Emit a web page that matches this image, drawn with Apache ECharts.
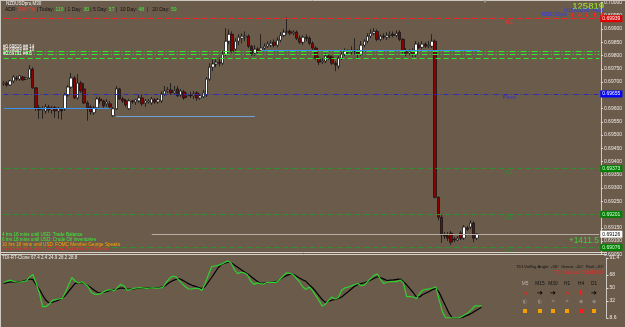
<!DOCTYPE html>
<html>
<head>
<meta charset="utf-8">
<script src="https://cdn.jsdelivr.net/npm/echarts@6/dist/echarts.min.js"></script>
<style>
  html, body { margin: 0; padding: 0; background: #6b5b4b; }
  #chart { width: 625px; height: 327px; }
</style>
</head>
<body>
<div id="chart"></div>
<script>
// NZDUSDpro M30 candles: [open, close, low, high]
var candles = [
  [0.69693,0.69696,0.69685,0.69704],[0.69696,0.69689,0.69681,0.69704],[0.69689,0.69704,0.69685,0.69708],[0.69704,0.69719,0.69696,0.69726],
  [0.69715,0.69711,0.69704,0.69723],[0.69711,0.69723,0.69704,0.69726],[0.69719,0.69708,0.69704,0.69723],[0.69711,0.69715,0.69708,0.69719],
  [0.69715,0.69749,0.69711,0.69764],[0.69749,0.69678,0.69674,0.69756],[0.69678,0.69603,0.69591,0.69681],[0.69603,0.69595,0.69561,0.69614],
  [0.69595,0.69599,0.69561,0.69610],[0.69591,0.69606,0.69580,0.69618],[0.69606,0.69595,0.69584,0.69614],[0.69595,0.69603,0.69580,0.69610],
  [0.69603,0.69591,0.69565,0.69610],[0.69591,0.69599,0.69561,0.69606],[0.69599,0.69591,0.69558,0.69603],[0.69599,0.69651,0.69591,0.69659],
  [0.69651,0.69681,0.69644,0.69689],[0.69681,0.69715,0.69674,0.69734],[0.69715,0.69640,0.69636,0.69723],[0.69640,0.69696,0.69633,0.69730],
  [0.69696,0.69666,0.69659,0.69704],[0.69674,0.69621,0.69618,0.69696],[0.69621,0.69599,0.69554,0.69629],[0.69606,0.69588,0.69576,0.69614],
  [0.69584,0.69603,0.69576,0.69610],[0.69603,0.69636,0.69595,0.69644],[0.69636,0.69629,0.69618,0.69644],[0.69629,0.69610,0.69603,0.69633],
  [0.69618,0.69625,0.69606,0.69636],[0.69618,0.69606,0.69599,0.69629],[0.69573,0.69599,0.69569,0.69606],[0.69599,0.69674,0.69595,0.69685],
  [0.69674,0.69636,0.69633,0.69678],[0.69636,0.69629,0.69621,0.69644],[0.69629,0.69614,0.69606,0.69636],[0.69599,0.69629,0.69595,0.69636],
  [0.69629,0.69625,0.69618,0.69633],[0.69625,0.69633,0.69614,0.69636],[0.69629,0.69640,0.69621,0.69651],[0.69640,0.69618,0.69610,0.69655],
  [0.69621,0.69629,0.69606,0.69636],[0.69625,0.69629,0.69618,0.69636],[0.69621,0.69636,0.69614,0.69644],[0.69633,0.69625,0.69618,0.69640],
  [0.69625,0.69633,0.69618,0.69640],[0.69629,0.69655,0.69621,0.69666],[0.69655,0.69666,0.69648,0.69685],[0.69666,0.69670,0.69659,0.69681],
  [0.69670,0.69659,0.69651,0.69696],[0.69659,0.69666,0.69655,0.69685],[0.69674,0.69648,0.69644,0.69685],[0.69651,0.69666,0.69644,0.69674],
  [0.69663,0.69640,0.69633,0.69670],[0.69648,0.69651,0.69640,0.69659],[0.69651,0.69648,0.69640,0.69663],[0.69648,0.69655,0.69636,0.69666],
  [0.69659,0.69640,0.69629,0.69666],[0.69640,0.69648,0.69633,0.69655],[0.69644,0.69659,0.69640,0.69670],[0.69651,0.69711,0.69644,0.69719],
  [0.69711,0.69756,0.69704,0.69771],[0.69756,0.69768,0.69741,0.69786],[0.69768,0.69775,0.69756,0.69790],[0.69775,0.69771,0.69760,0.69794],
  [0.69771,0.69805,0.69764,0.69816],[0.69805,0.69854,0.69798,0.69903],[0.69854,0.69880,0.69843,0.69899],[0.69880,0.69816,0.69809,0.69891],
  [0.69824,0.69854,0.69809,0.69865],[0.69854,0.69869,0.69839,0.69880],[0.69865,0.69873,0.69846,0.69884],[0.69869,0.69873,0.69854,0.69891],
  [0.69873,0.69835,0.69828,0.69880],[0.69835,0.69805,0.69798,0.69839],[0.69809,0.69824,0.69798,0.69839],[0.69824,0.69816,0.69809,0.69831],
  [0.69820,0.69828,0.69813,0.69880],[0.69828,0.69835,0.69820,0.69846],[0.69835,0.69843,0.69828,0.69854],[0.69839,0.69846,0.69831,0.69858],
  [0.69850,0.69839,0.69831,0.69861],[0.69839,0.69858,0.69831,0.69869],[0.69858,0.69876,0.69850,0.69888],[0.69876,0.69888,0.69869,0.69899],
  [0.69888,0.69891,0.69880,0.69944],[0.69891,0.69884,0.69876,0.69899],[0.69884,0.69888,0.69876,0.69895],[0.69888,0.69865,0.69858,0.69895],
  [0.69865,0.69850,0.69843,0.69876],[0.69850,0.69869,0.69839,0.69876],[0.69869,0.69865,0.69854,0.69880],[0.69865,0.69846,0.69839,0.69873],
  [0.69846,0.69828,0.69820,0.69854],[0.69828,0.69790,0.69783,0.69835],[0.69790,0.69775,0.69764,0.69798],[0.69775,0.69779,0.69768,0.69790],
  [0.69779,0.69798,0.69771,0.69809],[0.69798,0.69790,0.69783,0.69805],[0.69794,0.69771,0.69764,0.69801],[0.69771,0.69764,0.69741,0.69779],
  [0.69760,0.69790,0.69749,0.69798],[0.69790,0.69805,0.69783,0.69816],[0.69805,0.69816,0.69798,0.69828],[0.69816,0.69813,0.69805,0.69824],
  [0.69813,0.69820,0.69805,0.69835],[0.69820,0.69816,0.69805,0.69865],[0.69813,0.69805,0.69786,0.69824],[0.69805,0.69839,0.69798,0.69854],
  [0.69839,0.69854,0.69831,0.69861],[0.69854,0.69873,0.69846,0.69884],[0.69873,0.69884,0.69865,0.69899],[0.69884,0.69891,0.69876,0.69903],
  [0.69891,0.69861,0.69854,0.69899],[0.69861,0.69873,0.69854,0.69880],[0.69873,0.69869,0.69861,0.69884],[0.69869,0.69876,0.69858,0.69888],
  [0.69876,0.69880,0.69865,0.69891],[0.69880,0.69876,0.69869,0.69891],[0.69876,0.69884,0.69869,0.69895],[0.69888,0.69861,0.69854,0.69895],
  [0.69861,0.69816,0.69809,0.69865],[0.69816,0.69809,0.69798,0.69828],[0.69809,0.69816,0.69801,0.69824],[0.69816,0.69805,0.69794,0.69828],
  [0.69805,0.69843,0.69794,0.69854],[0.69839,0.69831,0.69824,0.69850],[0.69831,0.69843,0.69824,0.69854],[0.69843,0.69835,0.69828,0.69850],
  [0.69835,0.69839,0.69828,0.69854],[0.69835,0.69854,0.69828,0.69880],[0.69854,0.69265,0.69261,0.69861],[0.69265,0.69190,0.69179,0.69269],
  [0.69190,0.69123,0.69093,0.69198],[0.69123,0.69119,0.69108,0.69134],[0.69119,0.69111,0.69100,0.69134],[0.69130,0.69096,0.69085,0.69138],
  [0.69108,0.69104,0.69096,0.69115],[0.69104,0.69111,0.69100,0.69119],[0.69130,0.69111,0.69104,0.69138],[0.69111,0.69153,0.69104,0.69160],
  [0.69149,0.69145,0.69138,0.69156],[0.69153,0.69168,0.69145,0.69179],[0.69168,0.69111,0.69096,0.69175],[0.69111,0.69126,0.69104,0.69130]
];

// TDI sub window
var tdiGreen = [
  57.5,59.4,60.9,59.3,58.3,57.9,59.0,59.9,65.2,68.6,
  56.9,43.1,24.2,24.2,27.9,33.0,34.1,34.8,35.6,43.8,
  54.1,64.5,59.7,56.8,58.7,55.8,51.8,43.8,41.3,41.3,
  42.6,45.3,47.2,47.6,46.4,50.4,55.0,52.8,46.7,47.9,
  49.6,50.0,50.4,50.0,49.6,50.0,50.3,49.7,50.0,50.8,
  57.6,63.0,66.2,65.5,60.5,55.7,51.4,48.6,48.6,49.7,
  49.6,46.5,56.2,68.0,79.4,80.4,81.3,83.0,85.2,87.4,
  84.5,75.5,69.9,71.7,70.9,68.2,59.7,55.0,57.1,56.1,
  55.5,57.7,57.9,57.9,57.9,62.1,66.6,70.9,70.3,68.9,
  63.8,59.0,51.8,47.9,51.4,46.7,39.9,32.9,25.2,27.6,
  33.0,37.7,34.8,36.8,46.8,50.1,51.3,53.0,54.8,56.2,
  53.2,54.1,58.7,63.2,67.7,69.2,61.3,56.1,58.3,58.7,
  58.7,58.8,61.0,56.9,38.0,38.0,37.6,35.4,42.4,47.2,
  48.1,48.7,50.0,51.5,33.6,17.7,8.8,8.8,8.8,8.8,
  8.8,10.7,13.3,16.2,20.5,25.2,25.2,25.2
];
var tdiBlack = [
  56.4,57.3,58.3,58.6,58.2,58.0,59.7,61.0,62.4,61.6,
  54.7,48.2,40.3,33.0,29.3,30.4,31.7,33.4,36.2,39.7,
  45.5,51.0,56.5,57.2,57.8,55.5,53.0,50.0,46.5,43.7,
  43.1,44.3,45.6,46.8,47.8,48.9,50.0,49.7,48.3,48.6,
  48.9,49.3,49.6,50.0,50.1,50.3,50.6,50.7,50.8,51.1,
  54.1,57.5,60.1,61.7,63.1,60.9,58.2,55.7,53.7,52.2,
  50.6,49.3,52.1,58.3,64.5,71.3,77.9,82.4,84.1,85.6,
  84.8,81.6,78.6,75.4,72.4,69.6,66.1,62.7,59.2,56.5,
  56.9,57.3,57.9,58.3,58.7,61.9,64.9,67.1,68.8,69.3,
  66.6,63.9,61.5,59.2,54.6,50.3,45.5,39.7,34.1,30.1,
  31.8,33.1,34.1,35.8,37.4,41.3,44.9,48.6,52.3,54.7,
  56.1,57.3,58.7,61.0,63.4,65.5,63.9,62.3,60.3,60.9,
  61.3,61.9,62.3,58.6,54.4,49.0,43.8,37.9,37.7,41.0,
  43.1,45.2,47.8,49.6,44.1,34.6,25.0,15.6,8.7,8.6,
  8.6,8.9,11.2,12.9,15.1,18.0,20.7,23.6
];
var tdiTicks = [8.6, 32, 50, 68, 91.4];

// levels
var r1 = 0.69939, pivot = 0.69655, s1 = 0.69373, s2 = 0.69201, s3 = 0.69076;
var greenLevels = [0.69816, 0.69804, 0.69791];
var lastPrice = 0.69126;
// [fromBar, toBar, price]
var blueSegs = [[0, 33, 0.69602], [35, 78, 0.69571], [80, 148, 0.69819]];
var tfNames = ['M5', 'M15', 'M30', 'H1', 'H4', 'D1'];
var tfArrows = ['➘', '➔', '➔', '➘', '⬇', '➔'];
var tfArrowCol = ['#ff1a1a', '#000', '#000', '#ff1a1a', '#ff1a1a', '#000'];
var tfDots = ['◐', '◐', '✦', '✦', '◆', '◆'];
var tfBox = ['#f5a000', '#f5a000', '#f5a000', '#f5a000', '#ff1a1a', '#f5a000'];

var barSlots = 186;
var cats = [];
for (var i = 0; i < barSlots; i++) cats.push(String(i));

var FONT = '"Liberation Sans", Arial, sans-serif';
function fmt(v) { return v.toFixed(5); }

function boxLabel(v, bg, fg) {
  return {
    show: true, position: 'end', distance: 1, formatter: fmt(v),
    fontSize: 5, fontFamily: FONT, color: fg, backgroundColor: bg, padding: [1, 2, 1, 2]
  };
}
// full width level: from first to last slot
function levelLine(v, color, type, width, bg, fg) {
  return [
    { coord: [0, v], lineStyle: { color: color, type: type, width: width }, label: bg ? boxLabel(v, bg, fg) : { show: false } },
    { coord: [barSlots - 1, v] }
  ];
}

var lines = [
  levelLine(r1, '#ff2020', [6, 3], 1, '#e00000', '#ffffff'),
  levelLine(pivot, '#2c2cb0', [5, 2, 1, 2], 1, '#0000ff', '#ffffff'),
  levelLine(s1, '#2e8f2e', [6, 3], 1, '#008000', '#e0ffe0'),
  levelLine(s2, '#2e8f2e', [6, 3], 1, '#008000', '#e0ffe0'),
  levelLine(s3, '#2e8f2e', [6, 3], 1, '#008000', '#e0ffe0')
];
greenLevels.forEach(function (v, k) {
  lines.push(levelLine(v, '#2af02a', k < 2 ? [6, 2, 1, 2] : [5, 3], 1));
});
blueSegs.forEach(function (s, k) {
  lines.push([
    { coord: [s[0], s[2]], lineStyle: { color: k === 1 ? '#6ea2d6' : '#3a92ee', type: 'solid', width: 1.2 }, label: { show: false } },
    { coord: [s[1], s[2]] }
  ]);
});
lines.push([
  { coord: [46, lastPrice], lineStyle: { color: '#b4aca6', type: 'solid', width: 1 }, label: boxLabel(lastPrice, '#ffffff', '#000000') },
  { coord: [barSlots - 1, lastPrice] }
]);

function lvlText(v, s, color) {
  return { coord: [157, v], symbolSize: 0, label: { show: true, position: 'inside', offset: [0, 3.5], formatter: s, color: color, fontSize: 6, fontFamily: FONT } };
}

function txt(x, y, s, color, size, align, extra) {
  var st = {
    text: s, x: x, y: y, fill: color, font: size + 'px ' + FONT,
    align: align || 'left', textAlign: align || 'left',
    verticalAlign: 'middle', textVerticalAlign: 'middle'
  };
  if (extra) for (var k in extra) st[k] = extra[k];
  return { type: 'text', silent: true, z: 100, style: st };
}
function hline(x1, x2, y, color) {
  return { type: 'line', silent: true, z: 90, shape: { x1: x1, y1: y, x2: x2, y2: y }, style: { stroke: color, lineWidth: 1 } };
}

var graphics = [
  hline(0, 625, 0.5, '#cfc8c0'),
  { type: 'line', silent: true, z: 90, shape: { x1: 0.5, y1: 0, x2: 0.5, y2: 327 }, style: { stroke: '#cfc8c0', lineWidth: 1 } },
  hline(0, 607, 252.5, '#d8d2cc'),
  hline(0, 607, 254.5, '#d8d2cc'),
  txt(6, 3.5, 'NZDUSDpro,M30', '#f2f2f2', 4.5),
  txt(5, 9.5, '{k|ADR: }{r|244.7%}{k| | Today: }{g|119}{k| | 1 Day: }{g|30}{k| | 5 Day: }{g|57}{k| |  10 Day: }{g|48}{k|  |   20 Day: }{g|50}', '#111', 5, 'left', {
    rich: {
      k: { fill: '#111111', font: '5px ' + FONT },
      r: { fill: '#ff3030', font: '5px ' + FONT },
      g: { fill: '#3cf03c', font: '5px ' + FONT }
    }
  }),
  txt(485, 2, '▼', '#a8a29c', 5, 'center'),
  txt(604, 6.5, '125819', '#9cf02a', 9.5, 'right'),
  txt(604, 10.5, 'M15 M30 H1 H4 D1', '#2a3cff', 4.5, 'right'),
  txt(567, 15, 'NZDUSDpro', '#2a3cff', 4.5, 'right'),
  txt(3, 46.5, '#0.69816 ## 14', '#ffffff', 4.5),
  txt(3, 50, '#0.69804 ## 10', '#ffffff', 4.5),
  txt(3, 53.5, '#0.69791 ## 6', '#ffffff', 4.5),
  txt(2, 235, '4 hrs 18 mins until USD: Trade Balance', '#3cf03c', 4.6),
  txt(2, 239.7, '6 hrs 18 mins until USD: Crude Oil Inventories', '#3cf03c', 4.6),
  txt(2, 244.3, '10 hrs 18 mins until USD: FOMC Member George Speaks', '#ffa500', 4.6),
  txt(2, 249, '15 hrs 48 mins until NZD: ANZ Business Confidence', '#ff2a2a', 4.6),
  txt(599, 241, '+1411.5', '#3cd03c', 8.5, 'right'),
  txt(2, 257.5, 'TDI-RT-Clone 67.4 2.4 24.9 28.2 28.8', '#eeeeee', 4.5),
  txt(604, 266.7, 'TDI VolSig Angle: -36°  Green: -50°  Red: -31°', '#111111', 4.3, 'right'),
  txt(604, 273, 'TDI Crossed DOWN [10]', '#ff2020', 4.5, 'right')
];
[572, 579.5, 587, 594.5, 602].forEach(function (x) {
  graphics.push(txt(x, 15, '⬇', '#ff2020', 6, 'center', { font: 'bold 6px "DejaVu Sans"' }));
});
var tfX = [525, 540, 553, 567, 581, 594];
tfNames.forEach(function (n, k) {
  graphics.push(txt(tfX[k], 284, n, k === 0 ? '#b8b2ac' : '#111111', 4.8, 'center'));
  graphics.push(txt(tfX[k], 293, tfArrows[k], tfArrowCol[k], 7, 'center', { font: 'bold 7px "DejaVu Sans"' }));
  graphics.push(txt(tfX[k], 302, tfDots[k], '#8e8882', 5.5, 'center', { font: '5.5px "DejaVu Sans"' }));
  graphics.push({ type: 'rect', silent: true, z: 100, shape: { x: tfX[k] - 2, y: 309, width: 4, height: 4 }, style: { fill: tfBox[k] } });
});

var chart = echarts.init(document.getElementById('chart'), null, { renderer: 'canvas' });
var option = {
  backgroundColor: '#6b5b4b',
  animation: false,
  textStyle: { fontFamily: FONT },
  grid: [
    { left: 2, top: 1, width: 604.5, height: 253.33 },
    { left: 2, top: 258, width: 604.5, height: 60 }
  ],
  xAxis: [
    { type: 'category', gridIndex: 0, data: cats, boundaryGap: true, show: false },
    { type: 'category', gridIndex: 1, data: cats, boundaryGap: true, show: false }
  ],
  yAxis: [
    {
      type: 'value', gridIndex: 0, position: 'right', min: 0.6905, max: 0.7000, interval: 0.0005,
      axisLine: { show: true, lineStyle: { color: '#cfc8c0', width: 1 } },
      axisTick: { show: true, length: 2, lineStyle: { color: '#e0dad4' } },
      axisLabel: { fontSize: 5, color: '#ece8e4', margin: 3, formatter: fmt, showMinLabel: true, showMaxLabel: true },
      splitLine: { show: false }
    },
    {
      type: 'value', gridIndex: 1, position: 'right', min: 8.6, max: 91.4,
      axisLine: { show: true, lineStyle: { color: '#cfc8c0', width: 1 } },
      axisTick: { show: true, length: 2, lineStyle: { color: '#e0dad4' }, customValues: tdiTicks },
      axisLabel: { fontSize: 5, color: '#ece8e4', margin: 3, customValues: tdiTicks,
        formatter: function (v) { return (v % 1) ? v.toFixed(1) : String(v); } },
      splitLine: { show: false }
    }
  ],
  series: [
    {
      type: 'candlestick', xAxisIndex: 0, yAxisIndex: 0, data: candles, barWidth: 3,
      itemStyle: { color: '#ffffff', color0: '#8b0000', borderColor: '#151515', borderColor0: '#151515', borderWidth: 0.8 },
      markLine: { silent: true, symbol: ['none', 'none'], animation: false, label: { show: false }, data: lines },
      markPoint: {
        silent: true, animation: false,
        data: [lvlText(r1, 'R1', '#ff2a2a'), lvlText(pivot, 'Pivot', '#2a2aff'),
               lvlText(s1, 'S1', '#2e8f2e'), lvlText(s2, 'S2', '#2e8f2e'), lvlText(s3, 'S3', '#2e8f2e')]
      }
    },
    {
      type: 'line', xAxisIndex: 1, yAxisIndex: 1, data: tdiBlack, showSymbol: false,
      lineStyle: { color: '#000000', width: 1.2 }
    },
    {
      type: 'line', xAxisIndex: 1, yAxisIndex: 1, data: tdiGreen, showSymbol: false,
      lineStyle: { color: '#2ed02e', width: 1.2 }
    }
  ],
  graphic: graphics
};
chart.setOption(option);
</script>
</body>
</html>
